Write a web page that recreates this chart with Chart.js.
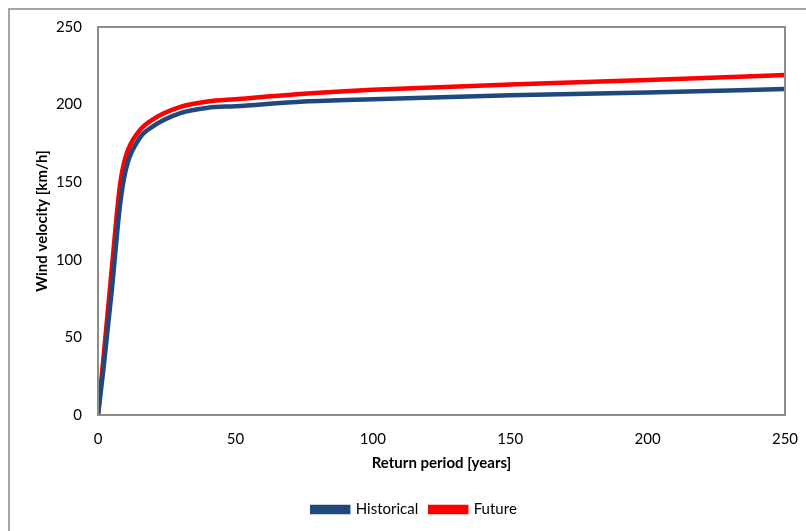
<!DOCTYPE html>
<html>
<head>
<meta charset="utf-8">
<script src="https://cdn.jsdelivr.net/npm/chart.js@4/dist/chart.umd.min.js"></script>
<style>
  html, body { margin: 0; padding: 0; background: #ffffff; }
  #wrap { position: relative; width: 806px; height: 531px; overflow: hidden; }
  #frame { position: absolute; left: 8px; top: 8px; width: 820px; height: 540px;
           border-left: 2px solid #a6a6a6; border-top: 2px solid #a6a6a6; }
  canvas { position: absolute; left: 0; top: 0; }
</style>
</head>
<body>
<div id="wrap">
  <div id="frame"></div>
  <canvas id="wind-chart" width="806" height="531"></canvas>
</div>
<script>
// return periods in years (x values)
const returnPeriods = [0, 2, 5, 8, 10, 15, 20, 30, 40, 50, 75, 100, 150, 200, 250];
// wind velocity in km/h
const historicalValues = [0, 30, 80, 135, 157, 178, 186, 194.5, 198, 199, 202, 203.5, 206, 207.8, 210];
const futureValues = [0, 37, 94, 148, 166, 183, 190.5, 198.5, 202, 203.5, 207, 209.5, 213, 215.8, 219];
const xTicks = [0, 50, 100, 150, 200, 250];
const yTicks = [0, 50, 100, 150, 200, 250];

function toPoints(values) {
    return returnPeriods.map((p, i) => ({ x: p, y: values[i] }));
}

/* draws the grey box round the plot area */
const plotBorder = {
    id: 'plotBorder',
    afterDatasetsDraw(chart) {
        const a = chart.chartArea;
        const ctx = chart.ctx;
        ctx.save();
        ctx.strokeStyle = '#8c8c8c';
        ctx.lineWidth = 2;
        ctx.strokeRect(a.left, a.top, a.right - a.left, a.bottom - a.top);
        ctx.restore();
    }
};

/* moves the legend a bit to the right, like the original */
const legendShift = {
    id: 'legendShift',
    afterLayout(chart) {
        if (chart.legend) chart.legend.left += 44;
    }
};

const font = { family: 'Lato, "Open Sans", sans-serif', size: 15 };
const boldFont = { family: 'Lato, "Open Sans", sans-serif', size: 15, weight: 'bold' };

new Chart(document.getElementById('wind-chart'), {
    type: 'line',
    data: {
        datasets: [{
            label: 'Historical',
            data: toPoints(historicalValues),
            borderColor: '#1f497d',
            backgroundColor: '#1f497d',
            borderWidth: 4.5,
            pointRadius: 0,
            cubicInterpolationMode: 'monotone'
        }, {
            label: 'Future',
            data: toPoints(futureValues),
            borderColor: '#ff0000',
            backgroundColor: '#ff0000',
            borderWidth: 4.5,
            pointRadius: 0,
            cubicInterpolationMode: 'monotone'
        }]
    },
    options: {
        responsive: false,
        animation: false,
        layout: { padding: { left: 0, top: 27, right: 21, bottom: 4 } },
        plugins: {
            tooltip: { enabled: false },
            legend: {
                position: 'bottom',
                labels: {
                    font: font,
                    color: '#000000',
                    boxWidth: 36,
                    boxHeight: 5,
                    padding: 12
                }
            }
        },
        scales: {
            x: {
                type: 'linear',
                min: 0,
                max: 250,
                afterBuildTicks: (axis) => { axis.ticks = xTicks.map(v => ({ value: v })); },
                afterFit: (axis) => {
                    axis.height = 75;
                    axis.paddingLeft = 0;
                    axis.paddingRight = 0;
                },
                grid: { display: false, drawTicks: false },
                border: { display: false },
                ticks: { font: font, color: '#000000', padding: 15, maxRotation: 0 },
                title: { display: true, text: 'Return period [years]', font: boldFont, color: '#000000', padding: { top: 0, bottom: 18 } }
            },
            y: {
                min: 0,
                max: 250,
                afterBuildTicks: (axis) => { axis.ticks = yTicks.map(v => ({ value: v })); },
                afterFit: (axis) => { axis.width = 98; },
                grid: { display: false, drawTicks: false },
                border: { display: false },
                ticks: { font: font, color: '#000000', padding: 16 },
                title: { display: true, text: 'Wind velocity [km/h]', font: boldFont, color: '#000000', padding: { top: 33, bottom: 0 } }
            }
        }
    },
    plugins: [plotBorder, legendShift]
});
</script>
</body>
</html>
